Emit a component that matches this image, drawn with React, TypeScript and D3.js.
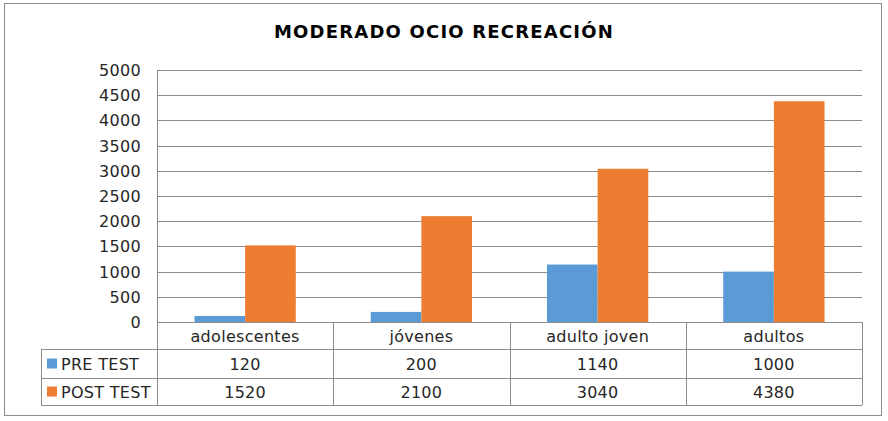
import React from "react";
import * as d3 from "d3";

const title = "MODERADO OCIO RECREACIÓN";
const categories = ["adolescentes", "jóvenes", "adulto joven", "adultos"];
const seriesNames = ["PRE TEST", "POST TEST"];
const preTest = [120, 200, 1140, 1000];
const postTest = [1520, 2100, 3040, 4380];
const yTicks = [0, 500, 1000, 1500, 2000, 2500, 3000, 3500, 4000, 4500, 5000];
const colors = ["#5B9BD5", "#ED7D31"];

const W = 888;
const H = 421;
const FONT = "'DejaVu Sans', sans-serif";

export default function App() {
  const series = [preTest, postTest];
  const plotLeft = 157;
  const plotRight = 862;
  const plotTop = 70;
  const plotBottom = 322;
  const rowH = [27, 29, 27];
  const legendLeft = 41;
  const grid = "#8c8c8c";
  const textCol = "#262626";
  const fs = 16;
  const ls = 0.3;

  const y = d3.scaleLinear().domain([0, 5000]).range([plotBottom, plotTop]);
  const x0 = d3.scaleBand<string>().domain(categories).range([plotLeft, plotRight]).paddingInner(0).paddingOuter(0);
  const inner = d3
    .scaleBand<number>()
    .domain([0, 1])
    .range([0, x0.bandwidth()])
    .paddingOuter(0.74)
    .paddingInner(0);

  const rowTops = [plotBottom, plotBottom + rowH[0], plotBottom + rowH[0] + rowH[1]];
  const tableBottom = plotBottom + rowH[0] + rowH[1] + rowH[2];

  return (
    <svg width={W} height={H} style={{ position: "absolute", left: 0, top: 0, fontFamily: FONT }}>
      <rect x={0} y={0} width={W} height={H} fill="#fff" />
      <rect x={4.5} y={3.5} width={877} height={412} fill="none" stroke="#8c8c8c" strokeWidth={1} />
      <text x={444} y={38} textAnchor="middle" fontWeight="bold" fontSize={18} letterSpacing={1.2} fill="#000">
        {title}
      </text>
      {yTicks.map((t) => (
        <g key={t}>
          <line x1={plotLeft} x2={plotRight} y1={Math.round(y(t)) + 0.5} y2={Math.round(y(t)) + 0.5} stroke={grid} strokeWidth={1} />
          <text x={141} y={y(t) + 6} textAnchor="end" fontSize={fs} letterSpacing={ls} fill={textCol}>
            {t}
          </text>
        </g>
      ))}
      {categories.map((c, i) =>
        series.map((s, j) => (
          <rect
            key={c + j}
            x={(x0(c) as number) + (inner(j) as number)}
            y={y(s[i])}
            width={inner.bandwidth()}
            height={plotBottom - y(s[i])}
            fill={colors[j]}
          />
        ))
      )}
      {/* table */}
      <line x1={plotLeft + 0.5} x2={plotLeft + 0.5} y1={plotTop} y2={tableBottom} stroke={grid} />
      {categories.map((c) => (
        <line
          key={"v" + c}
          x1={Math.round((x0(c) as number) + x0.bandwidth()) + 0.5}
          x2={Math.round((x0(c) as number) + x0.bandwidth()) + 0.5}
          y1={plotBottom}
          y2={tableBottom}
          stroke={grid}
        />
      ))}
      <line x1={legendLeft + 0.5} x2={legendLeft + 0.5} y1={rowTops[1]} y2={tableBottom} stroke={grid} />
      {[rowTops[1], rowTops[2], tableBottom].map((yy, k) => (
        <line key={"h" + k} x1={legendLeft} x2={plotRight} y1={yy + 0.5} y2={yy + 0.5} stroke={grid} />
      ))}
      {categories.map((c) => (
        <text
          key={"c" + c}
          x={(x0(c) as number) + x0.bandwidth() / 2}
          y={rowTops[0] + rowH[0] / 2 + 6}
          textAnchor="middle"
          fontSize={fs}
          letterSpacing={ls}
          fill={textCol}
        >
          {c}
        </text>
      ))}
      {seriesNames.map((name, j) => (
        <g key={name}>
          <rect x={47} y={rowTops[j + 1] + (rowH[j + 1] - 10) / 2} width={10} height={10} fill={colors[j]} />
          <text x={61} y={rowTops[j + 1] + rowH[j + 1] / 2 + 6} fontSize={fs} letterSpacing={ls} fill={textCol}>
            {name}
          </text>
          {categories.map((c, i) => (
            <text
              key={c}
              x={(x0(c) as number) + x0.bandwidth() / 2}
              y={rowTops[j + 1] + rowH[j + 1] / 2 + 6}
              textAnchor="middle"
              fontSize={fs}
              letterSpacing={ls}
              fill={textCol}
            >
              {series[j][i]}
            </text>
          ))}
        </g>
      ))}
    </svg>
  );
}
